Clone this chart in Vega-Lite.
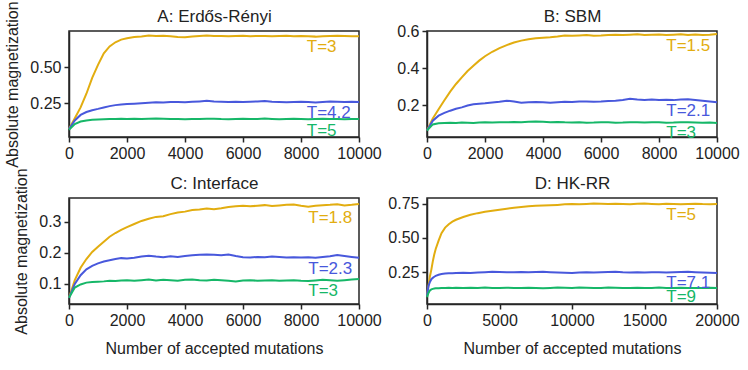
{
  "$schema": "https://vega.github.io/schema/vega-lite/v6.json",
  "padding": {"left": 4, "top": 0, "right": 4, "bottom": 4},
  "bounds": "flush",
  "spacing": {"row": 61, "column": 68},
  "columns": 2,
  "datasets": {
    "A": [
      {"r":1,"x":0,"y":0.070},{"r":1,"x":200,"y":0.145},{"r":1,"x":400,"y":0.220},{"r":1,"x":600,"y":0.315},{"r":1,"x":800,"y":0.425},{"r":1,"x":1000,"y":0.515},{"r":1,"x":1200,"y":0.595},{"r":1,"x":1400,"y":0.643},{"r":1,"x":1600,"y":0.672},{"r":1,"x":1800,"y":0.690},{"r":1,"x":2000,"y":0.700},{"r":1,"x":2250,"y":0.708},{"r":1,"x":2500,"y":0.712},{"r":1,"x":2750,"y":0.718},{"r":1,"x":3000,"y":0.716},{"r":1,"x":3250,"y":0.717},{"r":1,"x":3500,"y":0.713},{"r":1,"x":3750,"y":0.709},{"r":1,"x":4000,"y":0.707},{"r":1,"x":4250,"y":0.712},{"r":1,"x":4500,"y":0.716},{"r":1,"x":4750,"y":0.718},{"r":1,"x":5000,"y":0.715},{"r":1,"x":5250,"y":0.716},{"r":1,"x":5500,"y":0.713},{"r":1,"x":5750,"y":0.715},{"r":1,"x":6000,"y":0.717},{"r":1,"x":6250,"y":0.714},{"r":1,"x":6500,"y":0.716},{"r":1,"x":6750,"y":0.715},{"r":1,"x":7000,"y":0.713},{"r":1,"x":7250,"y":0.716},{"r":1,"x":7500,"y":0.717},{"r":1,"x":7750,"y":0.714},{"r":1,"x":8000,"y":0.715},{"r":1,"x":8250,"y":0.713},{"r":1,"x":8500,"y":0.711},{"r":1,"x":8750,"y":0.714},{"r":1,"x":9000,"y":0.716},{"r":1,"x":9250,"y":0.717},{"r":1,"x":9500,"y":0.715},{"r":1,"x":9750,"y":0.713},{"r":1,"x":10000,"y":0.714},
      {"r":2,"x":0,"y":0.070},{"r":2,"x":200,"y":0.130},{"r":2,"x":400,"y":0.168},{"r":2,"x":600,"y":0.188},{"r":2,"x":800,"y":0.201},{"r":2,"x":1000,"y":0.210},{"r":2,"x":1200,"y":0.220},{"r":2,"x":1400,"y":0.229},{"r":2,"x":1600,"y":0.236},{"r":2,"x":1800,"y":0.240},{"r":2,"x":2000,"y":0.243},{"r":2,"x":2250,"y":0.246},{"r":2,"x":2500,"y":0.249},{"r":2,"x":2750,"y":0.252},{"r":2,"x":3000,"y":0.256},{"r":2,"x":3250,"y":0.254},{"r":2,"x":3500,"y":0.257},{"r":2,"x":3750,"y":0.258},{"r":2,"x":4000,"y":0.256},{"r":2,"x":4250,"y":0.259},{"r":2,"x":4500,"y":0.262},{"r":2,"x":4750,"y":0.266},{"r":2,"x":5000,"y":0.262},{"r":2,"x":5250,"y":0.260},{"r":2,"x":5500,"y":0.258},{"r":2,"x":5750,"y":0.259},{"r":2,"x":6000,"y":0.257},{"r":2,"x":6250,"y":0.260},{"r":2,"x":6500,"y":0.262},{"r":2,"x":6750,"y":0.264},{"r":2,"x":7000,"y":0.260},{"r":2,"x":7250,"y":0.258},{"r":2,"x":7500,"y":0.256},{"r":2,"x":7750,"y":0.258},{"r":2,"x":8000,"y":0.260},{"r":2,"x":8250,"y":0.257},{"r":2,"x":8500,"y":0.255},{"r":2,"x":8750,"y":0.258},{"r":2,"x":9000,"y":0.261},{"r":2,"x":9250,"y":0.259},{"r":2,"x":9500,"y":0.257},{"r":2,"x":9750,"y":0.259},{"r":2,"x":10000,"y":0.258},
      {"r":3,"x":0,"y":0.065},{"r":3,"x":200,"y":0.105},{"r":3,"x":400,"y":0.122},{"r":3,"x":600,"y":0.130},{"r":3,"x":800,"y":0.134},{"r":3,"x":1000,"y":0.136},{"r":3,"x":1200,"y":0.138},{"r":3,"x":1400,"y":0.139},{"r":3,"x":1600,"y":0.140},{"r":3,"x":1800,"y":0.141},{"r":3,"x":2000,"y":0.140},{"r":3,"x":2250,"y":0.142},{"r":3,"x":2500,"y":0.139},{"r":3,"x":2750,"y":0.141},{"r":3,"x":3000,"y":0.144},{"r":3,"x":3250,"y":0.141},{"r":3,"x":3500,"y":0.139},{"r":3,"x":3750,"y":0.140},{"r":3,"x":4000,"y":0.138},{"r":3,"x":4250,"y":0.140},{"r":3,"x":4500,"y":0.139},{"r":3,"x":4750,"y":0.141},{"r":3,"x":5000,"y":0.142},{"r":3,"x":5250,"y":0.139},{"r":3,"x":5500,"y":0.138},{"r":3,"x":5750,"y":0.140},{"r":3,"x":6000,"y":0.142},{"r":3,"x":6250,"y":0.139},{"r":3,"x":6500,"y":0.140},{"r":3,"x":6750,"y":0.143},{"r":3,"x":7000,"y":0.140},{"r":3,"x":7250,"y":0.138},{"r":3,"x":7500,"y":0.139},{"r":3,"x":7750,"y":0.141},{"r":3,"x":8000,"y":0.140},{"r":3,"x":8250,"y":0.138},{"r":3,"x":8500,"y":0.139},{"r":3,"x":8750,"y":0.141},{"r":3,"x":9000,"y":0.140},{"r":3,"x":9250,"y":0.139},{"r":3,"x":9500,"y":0.138},{"r":3,"x":9750,"y":0.139},{"r":3,"x":10000,"y":0.139}
    ],
    "B": [
      {"r":1,"x":0,"y":0.065},{"r":1,"x":200,"y":0.130},{"r":1,"x":400,"y":0.180},{"r":1,"x":600,"y":0.228},{"r":1,"x":800,"y":0.275},{"r":1,"x":1000,"y":0.316},{"r":1,"x":1200,"y":0.352},{"r":1,"x":1400,"y":0.386},{"r":1,"x":1600,"y":0.415},{"r":1,"x":1800,"y":0.442},{"r":1,"x":2000,"y":0.466},{"r":1,"x":2250,"y":0.490},{"r":1,"x":2500,"y":0.510},{"r":1,"x":2750,"y":0.526},{"r":1,"x":3000,"y":0.540},{"r":1,"x":3250,"y":0.550},{"r":1,"x":3500,"y":0.557},{"r":1,"x":3750,"y":0.563},{"r":1,"x":4000,"y":0.566},{"r":1,"x":4250,"y":0.568},{"r":1,"x":4500,"y":0.572},{"r":1,"x":4750,"y":0.578},{"r":1,"x":5000,"y":0.576},{"r":1,"x":5250,"y":0.578},{"r":1,"x":5500,"y":0.580},{"r":1,"x":5750,"y":0.577},{"r":1,"x":6000,"y":0.578},{"r":1,"x":6250,"y":0.580},{"r":1,"x":6500,"y":0.582},{"r":1,"x":6750,"y":0.580},{"r":1,"x":7000,"y":0.582},{"r":1,"x":7250,"y":0.584},{"r":1,"x":7500,"y":0.581},{"r":1,"x":7750,"y":0.582},{"r":1,"x":8000,"y":0.583},{"r":1,"x":8250,"y":0.580},{"r":1,"x":8500,"y":0.582},{"r":1,"x":8750,"y":0.584},{"r":1,"x":9000,"y":0.581},{"r":1,"x":9250,"y":0.583},{"r":1,"x":9500,"y":0.580},{"r":1,"x":9750,"y":0.582},{"r":1,"x":10000,"y":0.586},
      {"r":2,"x":0,"y":0.065},{"r":2,"x":200,"y":0.118},{"r":2,"x":400,"y":0.145},{"r":2,"x":600,"y":0.160},{"r":2,"x":800,"y":0.172},{"r":2,"x":1000,"y":0.182},{"r":2,"x":1200,"y":0.190},{"r":2,"x":1400,"y":0.200},{"r":2,"x":1600,"y":0.207},{"r":2,"x":1800,"y":0.210},{"r":2,"x":2000,"y":0.212},{"r":2,"x":2250,"y":0.216},{"r":2,"x":2500,"y":0.220},{"r":2,"x":2750,"y":0.226},{"r":2,"x":3000,"y":0.222},{"r":2,"x":3250,"y":0.215},{"r":2,"x":3500,"y":0.218},{"r":2,"x":3750,"y":0.219},{"r":2,"x":4000,"y":0.217},{"r":2,"x":4250,"y":0.215},{"r":2,"x":4500,"y":0.218},{"r":2,"x":4750,"y":0.220},{"r":2,"x":5000,"y":0.219},{"r":2,"x":5250,"y":0.221},{"r":2,"x":5500,"y":0.222},{"r":2,"x":5750,"y":0.220},{"r":2,"x":6000,"y":0.221},{"r":2,"x":6250,"y":0.224},{"r":2,"x":6500,"y":0.226},{"r":2,"x":6750,"y":0.230},{"r":2,"x":7000,"y":0.236},{"r":2,"x":7250,"y":0.232},{"r":2,"x":7500,"y":0.230},{"r":2,"x":7750,"y":0.232},{"r":2,"x":8000,"y":0.229},{"r":2,"x":8250,"y":0.231},{"r":2,"x":8500,"y":0.229},{"r":2,"x":8750,"y":0.233},{"r":2,"x":9000,"y":0.234},{"r":2,"x":9250,"y":0.230},{"r":2,"x":9500,"y":0.226},{"r":2,"x":9750,"y":0.222},{"r":2,"x":10000,"y":0.218},
      {"r":3,"x":0,"y":0.065},{"r":3,"x":200,"y":0.098},{"r":3,"x":400,"y":0.104},{"r":3,"x":600,"y":0.106},{"r":3,"x":800,"y":0.107},{"r":3,"x":1000,"y":0.106},{"r":3,"x":1200,"y":0.108},{"r":3,"x":1400,"y":0.107},{"r":3,"x":1600,"y":0.106},{"r":3,"x":1800,"y":0.108},{"r":3,"x":2000,"y":0.109},{"r":3,"x":2250,"y":0.108},{"r":3,"x":2500,"y":0.110},{"r":3,"x":2750,"y":0.109},{"r":3,"x":3000,"y":0.111},{"r":3,"x":3250,"y":0.110},{"r":3,"x":3500,"y":0.112},{"r":3,"x":3750,"y":0.113},{"r":3,"x":4000,"y":0.112},{"r":3,"x":4250,"y":0.110},{"r":3,"x":4500,"y":0.111},{"r":3,"x":4750,"y":0.109},{"r":3,"x":5000,"y":0.108},{"r":3,"x":5250,"y":0.109},{"r":3,"x":5500,"y":0.107},{"r":3,"x":5750,"y":0.108},{"r":3,"x":6000,"y":0.110},{"r":3,"x":6250,"y":0.109},{"r":3,"x":6500,"y":0.107},{"r":3,"x":6750,"y":0.108},{"r":3,"x":7000,"y":0.110},{"r":3,"x":7250,"y":0.109},{"r":3,"x":7500,"y":0.108},{"r":3,"x":7750,"y":0.110},{"r":3,"x":8000,"y":0.109},{"r":3,"x":8250,"y":0.107},{"r":3,"x":8500,"y":0.108},{"r":3,"x":8750,"y":0.110},{"r":3,"x":9000,"y":0.109},{"r":3,"x":9250,"y":0.108},{"r":3,"x":9500,"y":0.107},{"r":3,"x":9750,"y":0.108},{"r":3,"x":10000,"y":0.106}
    ],
    "C": [
      {"r":1,"x":0,"y":0.055},{"r":1,"x":200,"y":0.112},{"r":1,"x":400,"y":0.152},{"r":1,"x":600,"y":0.180},{"r":1,"x":800,"y":0.203},{"r":1,"x":1000,"y":0.220},{"r":1,"x":1200,"y":0.236},{"r":1,"x":1400,"y":0.252},{"r":1,"x":1600,"y":0.264},{"r":1,"x":1800,"y":0.274},{"r":1,"x":2000,"y":0.283},{"r":1,"x":2250,"y":0.293},{"r":1,"x":2500,"y":0.303},{"r":1,"x":2750,"y":0.310},{"r":1,"x":3000,"y":0.316},{"r":1,"x":3250,"y":0.318},{"r":1,"x":3500,"y":0.325},{"r":1,"x":3750,"y":0.330},{"r":1,"x":4000,"y":0.333},{"r":1,"x":4250,"y":0.338},{"r":1,"x":4500,"y":0.340},{"r":1,"x":4750,"y":0.343},{"r":1,"x":5000,"y":0.341},{"r":1,"x":5250,"y":0.344},{"r":1,"x":5500,"y":0.348},{"r":1,"x":5750,"y":0.350},{"r":1,"x":6000,"y":0.352},{"r":1,"x":6250,"y":0.350},{"r":1,"x":6500,"y":0.352},{"r":1,"x":6750,"y":0.354},{"r":1,"x":7000,"y":0.351},{"r":1,"x":7250,"y":0.353},{"r":1,"x":7500,"y":0.355},{"r":1,"x":7750,"y":0.356},{"r":1,"x":8000,"y":0.352},{"r":1,"x":8250,"y":0.349},{"r":1,"x":8500,"y":0.352},{"r":1,"x":8750,"y":0.354},{"r":1,"x":9000,"y":0.355},{"r":1,"x":9250,"y":0.357},{"r":1,"x":9500,"y":0.353},{"r":1,"x":9750,"y":0.355},{"r":1,"x":10000,"y":0.358},
      {"r":2,"x":0,"y":0.055},{"r":2,"x":200,"y":0.100},{"r":2,"x":400,"y":0.128},{"r":2,"x":600,"y":0.147},{"r":2,"x":800,"y":0.158},{"r":2,"x":1000,"y":0.166},{"r":2,"x":1200,"y":0.172},{"r":2,"x":1400,"y":0.176},{"r":2,"x":1600,"y":0.180},{"r":2,"x":1800,"y":0.183},{"r":2,"x":2000,"y":0.182},{"r":2,"x":2250,"y":0.184},{"r":2,"x":2500,"y":0.188},{"r":2,"x":2750,"y":0.191},{"r":2,"x":3000,"y":0.188},{"r":2,"x":3250,"y":0.186},{"r":2,"x":3500,"y":0.189},{"r":2,"x":3750,"y":0.187},{"r":2,"x":4000,"y":0.190},{"r":2,"x":4250,"y":0.192},{"r":2,"x":4500,"y":0.194},{"r":2,"x":4750,"y":0.195},{"r":2,"x":5000,"y":0.194},{"r":2,"x":5250,"y":0.192},{"r":2,"x":5500,"y":0.195},{"r":2,"x":5750,"y":0.190},{"r":2,"x":6000,"y":0.186},{"r":2,"x":6250,"y":0.185},{"r":2,"x":6500,"y":0.187},{"r":2,"x":6750,"y":0.186},{"r":2,"x":7000,"y":0.188},{"r":2,"x":7250,"y":0.187},{"r":2,"x":7500,"y":0.185},{"r":2,"x":7750,"y":0.186},{"r":2,"x":8000,"y":0.185},{"r":2,"x":8250,"y":0.186},{"r":2,"x":8500,"y":0.184},{"r":2,"x":8750,"y":0.187},{"r":2,"x":9000,"y":0.189},{"r":2,"x":9250,"y":0.193},{"r":2,"x":9500,"y":0.190},{"r":2,"x":9750,"y":0.187},{"r":2,"x":10000,"y":0.184},
      {"r":3,"x":0,"y":0.055},{"r":3,"x":200,"y":0.088},{"r":3,"x":400,"y":0.098},{"r":3,"x":600,"y":0.104},{"r":3,"x":800,"y":0.106},{"r":3,"x":1000,"y":0.107},{"r":3,"x":1200,"y":0.108},{"r":3,"x":1400,"y":0.110},{"r":3,"x":1600,"y":0.109},{"r":3,"x":1800,"y":0.111},{"r":3,"x":2000,"y":0.112},{"r":3,"x":2250,"y":0.110},{"r":3,"x":2500,"y":0.112},{"r":3,"x":2750,"y":0.114},{"r":3,"x":3000,"y":0.111},{"r":3,"x":3250,"y":0.113},{"r":3,"x":3500,"y":0.112},{"r":3,"x":3750,"y":0.110},{"r":3,"x":4000,"y":0.113},{"r":3,"x":4250,"y":0.114},{"r":3,"x":4500,"y":0.112},{"r":3,"x":4750,"y":0.111},{"r":3,"x":5000,"y":0.113},{"r":3,"x":5250,"y":0.112},{"r":3,"x":5500,"y":0.110},{"r":3,"x":5750,"y":0.108},{"r":3,"x":6000,"y":0.111},{"r":3,"x":6250,"y":0.112},{"r":3,"x":6500,"y":0.110},{"r":3,"x":6750,"y":0.111},{"r":3,"x":7000,"y":0.112},{"r":3,"x":7250,"y":0.110},{"r":3,"x":7500,"y":0.111},{"r":3,"x":7750,"y":0.112},{"r":3,"x":8000,"y":0.110},{"r":3,"x":8250,"y":0.109},{"r":3,"x":8500,"y":0.111},{"r":3,"x":8750,"y":0.113},{"r":3,"x":9000,"y":0.112},{"r":3,"x":9250,"y":0.110},{"r":3,"x":9500,"y":0.112},{"r":3,"x":9750,"y":0.114},{"r":3,"x":10000,"y":0.116}
    ],
    "D": [
      {"r":1,"x":0,"y":0.080},{"r":1,"x":100,"y":0.150},{"r":1,"x":200,"y":0.220},{"r":1,"x":300,"y":0.270},{"r":1,"x":400,"y":0.330},{"r":1,"x":500,"y":0.380},{"r":1,"x":600,"y":0.420},{"r":1,"x":800,"y":0.480},{"r":1,"x":1000,"y":0.535},{"r":1,"x":1250,"y":0.575},{"r":1,"x":1500,"y":0.600},{"r":1,"x":1750,"y":0.618},{"r":1,"x":2000,"y":0.632},{"r":1,"x":2500,"y":0.652},{"r":1,"x":3000,"y":0.668},{"r":1,"x":3500,"y":0.680},{"r":1,"x":4000,"y":0.690},{"r":1,"x":4500,"y":0.697},{"r":1,"x":5000,"y":0.705},{"r":1,"x":5500,"y":0.712},{"r":1,"x":6000,"y":0.719},{"r":1,"x":6500,"y":0.724},{"r":1,"x":7000,"y":0.730},{"r":1,"x":7500,"y":0.733},{"r":1,"x":8000,"y":0.735},{"r":1,"x":8500,"y":0.737},{"r":1,"x":9000,"y":0.740},{"r":1,"x":9500,"y":0.744},{"r":1,"x":10000,"y":0.746},{"r":1,"x":10500,"y":0.745},{"r":1,"x":11000,"y":0.747},{"r":1,"x":11500,"y":0.750},{"r":1,"x":12000,"y":0.748},{"r":1,"x":12500,"y":0.746},{"r":1,"x":13000,"y":0.749},{"r":1,"x":13500,"y":0.747},{"r":1,"x":14000,"y":0.745},{"r":1,"x":14500,"y":0.748},{"r":1,"x":15000,"y":0.750},{"r":1,"x":15500,"y":0.747},{"r":1,"x":16000,"y":0.745},{"r":1,"x":16500,"y":0.748},{"r":1,"x":17000,"y":0.746},{"r":1,"x":17500,"y":0.744},{"r":1,"x":18000,"y":0.747},{"r":1,"x":18500,"y":0.749},{"r":1,"x":19000,"y":0.746},{"r":1,"x":19500,"y":0.745},{"r":1,"x":20000,"y":0.746},
      {"r":2,"x":0,"y":0.080},{"r":2,"x":100,"y":0.150},{"r":2,"x":200,"y":0.180},{"r":2,"x":300,"y":0.200},{"r":2,"x":400,"y":0.210},{"r":2,"x":500,"y":0.218},{"r":2,"x":600,"y":0.224},{"r":2,"x":800,"y":0.232},{"r":2,"x":1000,"y":0.238},{"r":2,"x":1250,"y":0.241},{"r":2,"x":1500,"y":0.243},{"r":2,"x":1750,"y":0.244},{"r":2,"x":2000,"y":0.245},{"r":2,"x":2500,"y":0.247},{"r":2,"x":3000,"y":0.246},{"r":2,"x":3500,"y":0.249},{"r":2,"x":4000,"y":0.251},{"r":2,"x":4500,"y":0.254},{"r":2,"x":5000,"y":0.252},{"r":2,"x":5500,"y":0.250},{"r":2,"x":6000,"y":0.251},{"r":2,"x":6500,"y":0.253},{"r":2,"x":7000,"y":0.250},{"r":2,"x":7500,"y":0.252},{"r":2,"x":8000,"y":0.254},{"r":2,"x":8500,"y":0.251},{"r":2,"x":9000,"y":0.249},{"r":2,"x":9500,"y":0.247},{"r":2,"x":10000,"y":0.245},{"r":2,"x":10500,"y":0.248},{"r":2,"x":11000,"y":0.250},{"r":2,"x":11500,"y":0.249},{"r":2,"x":12000,"y":0.251},{"r":2,"x":12500,"y":0.253},{"r":2,"x":13000,"y":0.255},{"r":2,"x":13500,"y":0.251},{"r":2,"x":14000,"y":0.249},{"r":2,"x":14500,"y":0.250},{"r":2,"x":15000,"y":0.248},{"r":2,"x":15500,"y":0.250},{"r":2,"x":16000,"y":0.251},{"r":2,"x":16500,"y":0.249},{"r":2,"x":17000,"y":0.250},{"r":2,"x":17500,"y":0.252},{"r":2,"x":18000,"y":0.254},{"r":2,"x":18500,"y":0.251},{"r":2,"x":19000,"y":0.249},{"r":2,"x":19500,"y":0.247},{"r":2,"x":20000,"y":0.246},
      {"r":3,"x":0,"y":0.070},{"r":3,"x":100,"y":0.100},{"r":3,"x":200,"y":0.118},{"r":3,"x":300,"y":0.126},{"r":3,"x":400,"y":0.130},{"r":3,"x":500,"y":0.132},{"r":3,"x":600,"y":0.134},{"r":3,"x":800,"y":0.135},{"r":3,"x":1000,"y":0.137},{"r":3,"x":1250,"y":0.136},{"r":3,"x":1500,"y":0.138},{"r":3,"x":1750,"y":0.137},{"r":3,"x":2000,"y":0.138},{"r":3,"x":2500,"y":0.136},{"r":3,"x":3000,"y":0.138},{"r":3,"x":3500,"y":0.137},{"r":3,"x":4000,"y":0.139},{"r":3,"x":4500,"y":0.137},{"r":3,"x":5000,"y":0.136},{"r":3,"x":5500,"y":0.138},{"r":3,"x":6000,"y":0.137},{"r":3,"x":6500,"y":0.136},{"r":3,"x":7000,"y":0.138},{"r":3,"x":7500,"y":0.137},{"r":3,"x":8000,"y":0.135},{"r":3,"x":8500,"y":0.137},{"r":3,"x":9000,"y":0.139},{"r":3,"x":9500,"y":0.138},{"r":3,"x":10000,"y":0.137},{"r":3,"x":10500,"y":0.139},{"r":3,"x":11000,"y":0.138},{"r":3,"x":11500,"y":0.136},{"r":3,"x":12000,"y":0.137},{"r":3,"x":12500,"y":0.139},{"r":3,"x":13000,"y":0.138},{"r":3,"x":13500,"y":0.136},{"r":3,"x":14000,"y":0.137},{"r":3,"x":14500,"y":0.138},{"r":3,"x":15000,"y":0.136},{"r":3,"x":15500,"y":0.137},{"r":3,"x":16000,"y":0.139},{"r":3,"x":16500,"y":0.137},{"r":3,"x":17000,"y":0.136},{"r":3,"x":17500,"y":0.138},{"r":3,"x":18000,"y":0.137},{"r":3,"x":18500,"y":0.136},{"r":3,"x":19000,"y":0.137},{"r":3,"x":19500,"y":0.138},{"r":3,"x":20000,"y":0.136}
    ],
    "L": [
      {"p":"A","r":1,"x":8200,"y":0.642,"t":"T=3"},{"p":"A","r":2,"x":8200,"y":0.180,"t":"T=4.2"},{"p":"A","r":3,"x":8200,"y":0.058,"t":"T=5"},
      {"p":"B","r":1,"x":8250,"y":0.523,"t":"T=1.5"},{"p":"B","r":2,"x":8250,"y":0.172,"t":"T=2.1"},{"p":"B","r":3,"x":8250,"y":0.050,"t":"T=3"},
      {"p":"C","r":1,"x":8250,"y":0.313,"t":"T=1.8"},{"p":"C","r":2,"x":8250,"y":0.149,"t":"T=2.3"},{"p":"C","r":3,"x":8250,"y":0.077,"t":"T=3"},
      {"p":"D","r":1,"x":16500,"y":0.665,"t":"T=5"},{"p":"D","r":2,"x":16500,"y":0.171,"t":"T=7.1"},{"p":"D","r":3,"x":16500,"y":0.070,"t":"T=9"}
    ]
  },
  "concat": [
    {
      "width": 290, "height": 106,
      "encoding": {
        "y": {"field": "y", "type": "quantitative", "scale": {"domain": [0.015, 0.75], "nice": false, "zero": false}, "axis": {"title": "Absolute magnetization", "titlePadding": 9, "values": [0.25, 0.5], "format": ".2f"}},
        "color": {"field": "r", "type": "nominal", "scale": {"domain": [1,2,3], "range": ["#e2ad10", "#4858dc", "#16b768"]}, "legend": null}
      },
      "layer": [
        {"data": {"name": "A"}, "mark": {"type": "line", "strokeWidth": 2},
         "encoding": {"x": {"field": "x", "type": "quantitative", "scale": {"domain": [0, 10000], "nice": false}, "axis": {"title": null, "values": [0,2000,4000,6000,8000,10000], "format": "d"}}}},
        {"data": {"name": "L"}, "transform": [{"filter": "datum.p === 'A'"}], "mark": {"type": "text", "align": "left", "baseline": "middle", "fontSize": 17},
         "encoding": {"x": {"field": "x", "type": "quantitative", "axis": {"orient": "top", "title": "A: Erdős-Rényi", "labels": false, "ticks": false, "domain": false, "titleFontSize": 17, "titlePadding": 6}}, "text": {"field": "t"}}}
      ],
      "resolve": {"axis": {"x": "independent"}}
    },
    {
      "width": 290, "height": 106,
      "encoding": {
        "y": {"field": "y", "type": "quantitative", "scale": {"domain": [0.03, 0.602], "nice": false, "zero": false}, "axis": {"title": null, "values": [0.2, 0.4, 0.6], "format": ".1f"}},
        "color": {"field": "r", "type": "nominal", "scale": {"domain": [1,2,3], "range": ["#e2ad10", "#4858dc", "#16b768"]}, "legend": null}
      },
      "layer": [
        {"data": {"name": "B"}, "mark": {"type": "line", "strokeWidth": 2},
         "encoding": {"x": {"field": "x", "type": "quantitative", "scale": {"domain": [0, 10000], "nice": false}, "axis": {"title": null, "values": [0,2000,4000,6000,8000,10000], "format": "d"}}}},
        {"data": {"name": "L"}, "transform": [{"filter": "datum.p === 'B'"}], "mark": {"type": "text", "align": "left", "baseline": "middle", "fontSize": 17},
         "encoding": {"x": {"field": "x", "type": "quantitative", "axis": {"orient": "top", "title": "B: SBM", "labels": false, "ticks": false, "domain": false, "titleFontSize": 17, "titlePadding": 6}}, "text": {"field": "t"}}}
      ],
      "resolve": {"axis": {"x": "independent"}}
    },
    {
      "width": 290, "height": 106,
      "encoding": {
        "y": {"field": "y", "type": "quantitative", "scale": {"domain": [0.035, 0.377], "nice": false, "zero": false}, "axis": {"title": "Absolute magnetization", "titlePadding": 9, "values": [0.1, 0.2, 0.3], "format": ".1f"}},
        "color": {"field": "r", "type": "nominal", "scale": {"domain": [1,2,3], "range": ["#e2ad10", "#4858dc", "#16b768"]}, "legend": null}
      },
      "layer": [
        {"data": {"name": "C"}, "mark": {"type": "line", "strokeWidth": 2},
         "encoding": {"x": {"field": "x", "type": "quantitative", "scale": {"domain": [0, 10000], "nice": false}, "axis": {"title": "Number of accepted mutations", "titlePadding": 12, "values": [0,2000,4000,6000,8000,10000], "format": "d"}}}},
        {"data": {"name": "L"}, "transform": [{"filter": "datum.p === 'C'"}], "mark": {"type": "text", "align": "left", "baseline": "middle", "fontSize": 17},
         "encoding": {"x": {"field": "x", "type": "quantitative", "axis": {"orient": "top", "title": "C: Interface", "labels": false, "ticks": false, "domain": false, "titleFontSize": 17, "titlePadding": 6}}, "text": {"field": "t"}}}
      ],
      "resolve": {"axis": {"x": "independent"}}
    },
    {
      "width": 290, "height": 106,
      "encoding": {
        "y": {"field": "y", "type": "quantitative", "scale": {"domain": [0.02, 0.79], "nice": false, "zero": false}, "axis": {"title": null, "values": [0.25, 0.5, 0.75], "format": ".2f"}},
        "color": {"field": "r", "type": "nominal", "scale": {"domain": [1,2,3], "range": ["#e2ad10", "#4858dc", "#16b768"]}, "legend": null}
      },
      "layer": [
        {"data": {"name": "D"}, "mark": {"type": "line", "strokeWidth": 2},
         "encoding": {"x": {"field": "x", "type": "quantitative", "scale": {"domain": [0, 20000], "nice": false}, "axis": {"title": "Number of accepted mutations", "titlePadding": 12, "values": [0,5000,10000,15000,20000], "format": "d"}}}},
        {"data": {"name": "L"}, "transform": [{"filter": "datum.p === 'D'"}], "mark": {"type": "text", "align": "left", "baseline": "middle", "fontSize": 17},
         "encoding": {"x": {"field": "x", "type": "quantitative", "axis": {"orient": "top", "title": "D: HK-RR", "labels": false, "ticks": false, "domain": false, "titleFontSize": 17, "titlePadding": 6}}, "text": {"field": "t"}}}
      ],
      "resolve": {"axis": {"x": "independent"}}
    }
  ],
  "config": {
    "font": "Liberation Sans",
    "view": {"stroke": "#262626", "strokeWidth": 1.5},
    "axis": {"grid": false, "domainColor": "#262626", "domainWidth": 1.5, "tickColor": "#262626", "tickWidth": 1.5, "tickSize": 5, "labelFontSize": 16, "titleFontSize": 16, "titleFontWeight": "normal", "labelColor": "#222222", "titleColor": "#222222", "labelPadding": 3, "titlePadding": 6, "labelFlush": false}
  }
}
